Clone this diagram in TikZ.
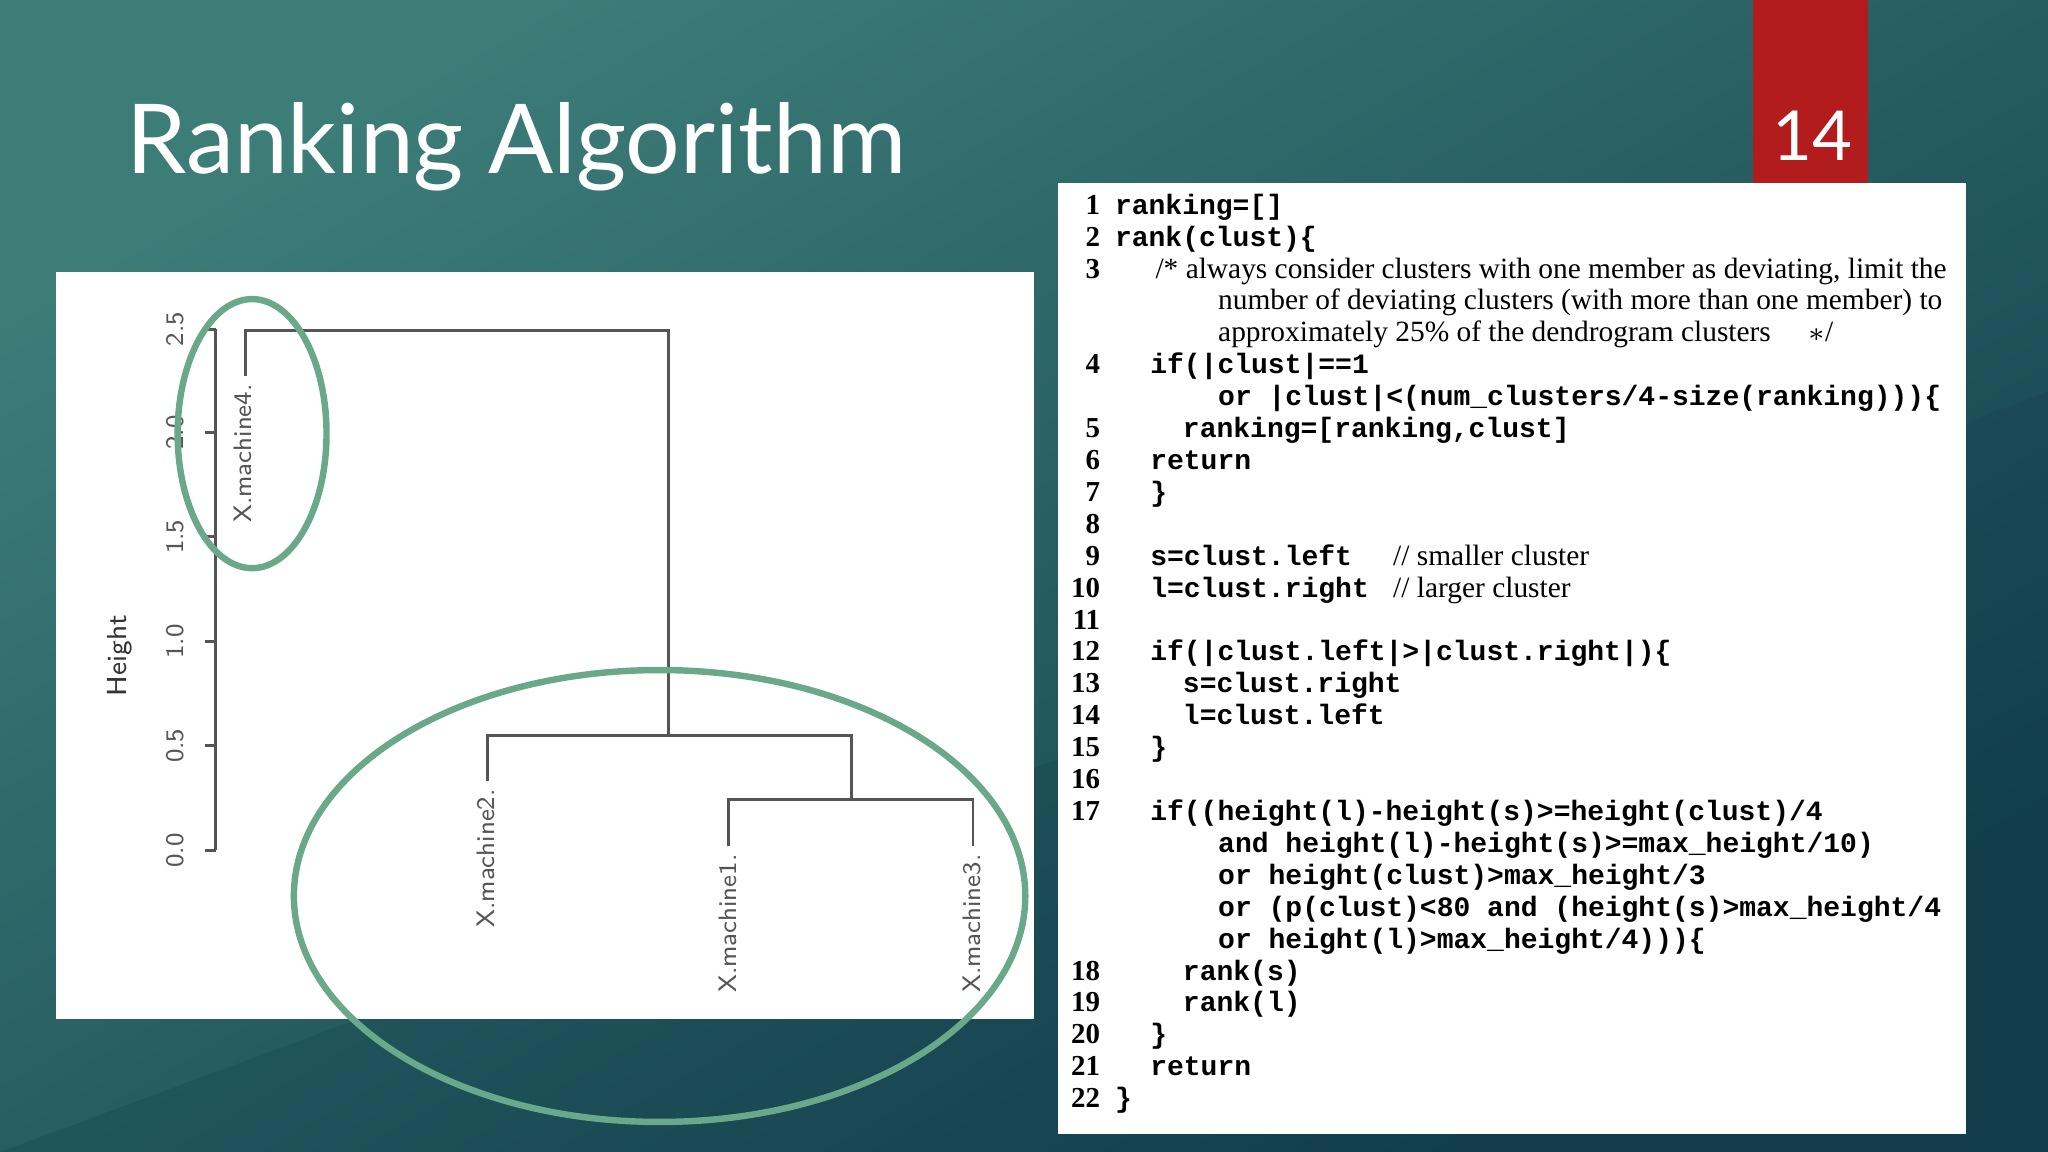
\documentclass[tikz,border=0pt]{standalone}
\usepackage{fontspec}
\setmainfont{Liberation Serif}
\setmonofont{Liberation Mono}
\newfontfamily\titlefont{Lato}
\usetikzlibrary{shapes.geometric}
\definecolor{bgA}{HTML}{3C7D78}
\definecolor{bgB}{HTML}{123E4C}
\definecolor{redbox}{HTML}{B21C1C}
\definecolor{ell}{HTML}{6AA88A}
\definecolor{axg}{HTML}{555555}
\tikzset{
 ln/.style={anchor=base east,font=\fontsize{6.3}{7}\selectfont\bfseries,inner sep=0},
 cd/.style={anchor=base west,font=\fontsize{6.1}{7}\ttfamily\bfseries,inner sep=0},
 cmt/.style={anchor=base west,font=\fontsize{6.4}{7}\selectfont,inner sep=0},
 tree/.style={draw=axg,line width=0.6pt},
 lab/.style={rotate=90,anchor=east,font=\sffamily\fontsize{5.5}{6}\selectfont,text=axg,inner sep=1pt},
 tk/.style={rotate=90,font=\sffamily\fontsize{5.5}{6}\selectfont,text=axg,inner sep=0},
 ov/.style={draw=ell,line width=1.4pt}
}
\newcommand{\CL}[4]{% k, x, num, text
 \pgfmathsetmacro{\yy}{158+24.43*#1+6}
 \ifx\relax#3\relax\else\node[ln] (n#1) at (843,\yy) {#3};\fi
 \node[cd] (c#1) at (#2,\yy) {#4};}
\begin{document}
\begin{tikzpicture}[x=0.01cm,y=-0.01cm]
\useasboundingbox (0,0) rectangle (1568,882);
\shade[top color=bgA,bottom color=bgB,shading angle=30] (0,0) rectangle (1568,882);
\fill[bgB,opacity=0.25] (0,882) -- (1568,882) -- (1568,300) -- cycle;
\node[anchor=base west,text=white,font=\titlefont\fontsize{21}{24}\selectfont,inner sep=0] (title) at (96,133) {Ranking Algorithm};
\fill[redbox] (1342,0) rectangle (1430,140);
\node[text=white,font=\titlefont\fontsize{15}{18}\selectfont] (pg) at (1388,104) {14};
% panels
\fill[white] (43,208) rectangle (792,780);
\fill[white] (810,140) rectangle (1505,868);
% dendrogram axis
\draw[tree] (165,252) -- (165,651);
\foreach \v/\y in {0.0/651,0.5/571,1.0/491,1.5/411,2.0/331,2.5/252}{
 \draw[tree] (157,\y) -- (165,\y);
 \node[tk] at (134,\y) {\v};}
\node[tk,font=\sffamily\fontsize{6}{7}\selectfont,text=black!80] (h) at (92,502) {Height};
\draw[tree] (188,288) -- (188,253) -- (512,253) -- (512,563);
\draw[tree] (373,598) -- (373,563) -- (652,563) -- (652,612);
\draw[tree] (558,648) -- (558,612) -- (745,612) -- (745,648);
\node[lab] (m4) at (186,290) {X.machine4.};
\node[lab] (m2) at (372,600) {X.machine2.};
\node[lab] (m1) at (557,650) {X.machine1.};
\node[lab] (m3) at (744,650) {X.machine3.};
\draw[ov] (193,332) ellipse [x radius=57,y radius=103];
\draw[ov] (505,686) ellipse [x radius=280,y radius=173];
% code
\CL{0}{853}{1}{ranking=[]}
\CL{1}{853}{2}{rank(clust)\{}
\node[ln] at (843,{158+24.43*2+6}) {3};
\node[cmt] at (884,{158+24.43*2+6}) {/* always consider clusters with one member as deviating, limit the};
\node[cmt] at (932,{158+24.43*3+6}) {number of deviating clusters (with more than one member) to};
\node[cmt] at (932,{158+24.43*4+6}) {approximately 25\% of the dendrogram clusters \quad $*$/};
\CL{5}{880}{4}{if(|clust|==1}
\CL{6}{932}{}{or |clust|<(num\_clusters/4-size(ranking)))\{}
\CL{7}{905}{5}{ranking=[ranking,clust]}
\CL{8}{880}{6}{return}
\CL{9}{880}{7}{\}}
\CL{10}{880}{8}{}
\CL{11}{880}{9}{s=clust.left}
\node[cmt] at (1066,{158+24.43*11+6}) {// smaller cluster};
\CL{12}{880}{10}{l=clust.right}
\node[cmt] at (1066,{158+24.43*12+6}) {// larger cluster};
\CL{13}{880}{11}{}
\CL{14}{880}{12}{if(|clust.left|>|clust.right|)\{}
\CL{15}{905}{13}{s=clust.right}
\CL{16}{905}{14}{l=clust.left}
\CL{17}{880}{15}{\}}
\CL{18}{880}{16}{}
\CL{19}{880}{17}{if((height(l)-height(s)>=height(clust)/4}
\CL{20}{932}{}{and height(l)-height(s)>=max\_height/10)}
\CL{21}{932}{}{or height(clust)>max\_height/3}
\CL{22}{932}{}{or (p(clust)<80 and (height(s)>max\_height/4}
\CL{23}{932}{}{or height(l)>max\_height/4)))\{}
\CL{24}{905}{18}{rank(s)}
\CL{25}{905}{19}{rank(l)}
\CL{26}{880}{20}{\}}
\CL{27}{880}{21}{return}
\CL{28}{853}{22}{\}}
\end{tikzpicture}
\end{document}
